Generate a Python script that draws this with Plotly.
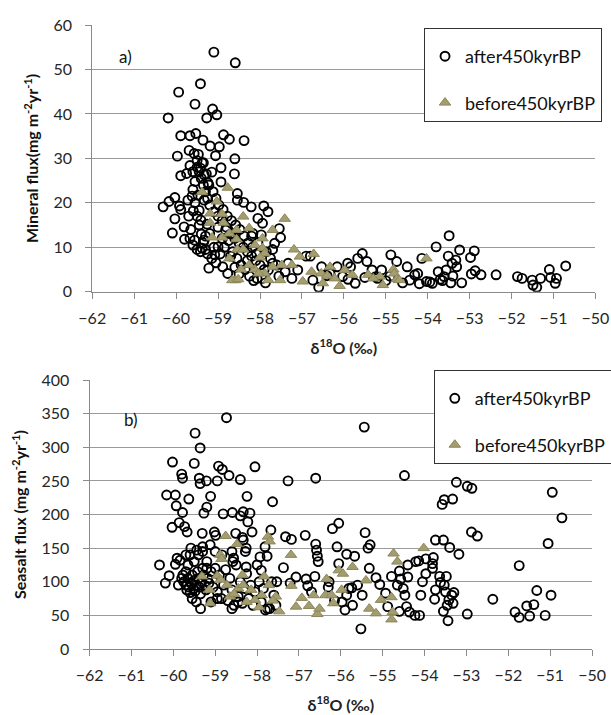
import plotly.graph_objects as go

# ---------------- Panel a) Mineral flux ----------------
a_after_x = [-59.1, -58.59, -59.42, -59.94, -59.55, -60.19, -59.27, -59.13, -59.03, -59.89, -59.67, -59.53,
             -58.87, -58.73, -58.38, -59.36, -59.19, -58.97, -59.69, -59.57, -59.47, -59.97, -59.06, -58.6,
             -58.93, -58.61, -59.89, -59.38, -59.67, -59.75, -59.33, -59.15, -58.93, -59.55, -59.24, -58.54,
             -60.31, -60.17, -60.03, -59.92, -59.89, -60.03, -60.09, -59.81, -59.8, -59.67, -59.56, -59.72,
             -59.62, -59.48, -59.59, -59.45, -59.33, -59.41, -59.26, -59.2, -59.33, -59.38, -59.22, -59.08,
             -58.89, -58.77, -59.0, -58.82, -58.67, -58.54, -58.39, -58.21, -57.91, -57.81, -58.05, -57.94,
             -58.17, -57.97, -57.54, -57.51, -57.65, -57.7, -57.7, -57.8, -57.87, -58.07, -57.33, -57.24,
             -57.1, -56.9, -56.8, -56.74, -56.6, -56.53, -56.33, -56.16, -56.03, -55.91, -55.84, -55.73,
             -55.67, -55.56, -55.45, -55.33, -55.24, -55.1, -54.88, -54.74, -54.49, -54.43, -54.31, -54.24,
             -54.14, -54.03, -53.89, -53.8, -53.75, -53.61, -53.56, -53.49, -53.51, -53.42, -53.33, -53.31,
             -53.24, -53.19, -52.98, -52.89, -52.96, -52.87, -52.73, -52.37, -51.86, -51.75, -51.51, -51.49,
             -51.4, -51.31, -51.1, -51.07, -50.96, -50.93, -50.71,
             -59.5, -59.45, -59.4, -59.35, -59.3, -59.25, -59.2, -59.1, -59.0, -58.9, -58.8, -58.7, -58.6,
             -58.5, -58.4, -58.3, -58.2, -58.1, -58.0, -57.9,
             -59.6, -59.55, -59.5, -59.45, -59.4, -59.35, -59.3, -59.25, -59.15, -59.05, -58.95, -58.85,
             -58.75, -58.65, -58.55, -58.45, -58.35, -58.25, -58.15, -57.95,
             -59.6, -59.5, -59.42, -59.35, -59.28, -59.22, -59.12, -59.05, -58.98, -58.88, -58.78, -58.68,
             -58.58, -58.48, -58.38, -58.28, -58.18, -58.08,
             -59.7, -59.65, -59.6, -59.5, -59.42, -59.3, -59.1, -59.0, -58.9, -58.7, -58.6, -58.5, -58.3,
             -58.2, -58.05, -57.85, -57.75, -57.6, -57.55, -57.4,
             -55.2, -55.0, -54.9, -54.6, -54.2, -53.95, -53.7, -53.45, -53.4, -53.65, -55.5, -55.9, -56.4]
a_after_y = [53.9, 51.5, 46.8, 44.9, 42.2, 39.1, 39.1, 41.1, 39.8, 35.1, 35.1, 35.6,
             35.3, 34.3, 34.0, 34.1, 32.8, 32.6, 31.8, 31.1, 30.9, 30.5, 30.6, 29.9,
             27.9, 26.5, 26.1, 29.0, 28.4, 26.6, 26.3, 26.9, 24.7, 24.8, 24.5, 22.1,
             19.1, 20.3, 21.2, 19.3, 18.5, 16.4, 13.2, 14.6, 11.8, 12.0, 11.6, 20.6,
             21.5, 21.7, 18.2, 18.3, 20.6, 16.1, 15.2, 13.1, 11.6, 9.8, 5.3, 8.3,
             5.6, 4.1, 10.1, 13.9, 13.1, 20.6, 20.1, 19.1, 19.3, 18.0, 16.5, 15.4,
             13.1, 12.8, 14.2, 12.2, 10.9, 9.5, 6.4, 4.9, 2.0, 3.0, 6.4, 3.0,
             4.9, 8.0, 8.0, 2.6, 1.0, 5.6, 4.1, 5.6, 3.4, 6.4, 5.6, 1.9,
             7.5, 8.6, 6.8, 4.9, 3.4, 4.9, 8.3, 6.8, 5.6, 2.6, 3.8, 4.1,
             7.5, 2.3, 1.9, 10.1, 4.5, 3.4, 4.9, 12.6, 8.0, 6.4, 7.1, 5.6,
             9.4, 2.0, 7.7, 9.2, 4.0, 4.7, 3.8, 3.8, 3.4, 3.0, 2.6, 1.5,
             1.0, 3.0, 5.0, 3.2, 1.9, 3.0, 5.8,
             28.0, 27.0, 25.5, 24.0, 22.5, 21.0, 19.5, 18.0, 17.0, 16.0, 14.5, 13.0, 12.0,
             11.0, 10.0, 9.0, 8.0, 7.0, 6.0, 5.0,
             23.0, 20.0, 17.0, 15.0, 13.0, 11.0, 9.5, 8.5, 7.5, 6.5, 8.5, 10.0,
             11.5, 9.0, 7.5, 6.0, 5.0, 3.5, 2.5, 3.0,
             27.0, 29.5, 27.8, 29.0, 26.5, 24.0, 22.5, 21.0, 19.5, 18.5, 17.0, 16.0,
             15.0, 14.0, 12.5, 11.0, 10.0, 8.5,
             17.0, 14.0, 10.5, 9.5, 9.0, 12.5, 10.0, 14.5, 12.0, 8.0, 5.5, 4.0, 7.0,
             12.5, 11.0, 9.0, 7.5, 6.0, 3.5, 4.5,
             3.0, 2.5, 3.5, 2.0, 1.8, 2.2, 2.8, 2.0, 3.5, 2.5, 3.2, 2.8, 3.6]

a_before_x = [-59.38, -58.77, -59.03, -59.19, -59.19, -58.91, -58.87, -59.14, -58.9, -58.56, -58.4, -58.26,
              -58.12, -57.94, -57.7, -57.41, -57.19, -57.05, -57.24, -57.48, -57.52, -57.8, -57.89, -58.12,
              -58.26, -58.45, -58.59, -58.73, -58.66, -58.52, -58.54, -58.4, -58.03, -57.7, -56.98, -56.72,
              -56.77, -56.54, -56.5, -56.33, -56.22, -56.1, -55.98, -55.8, -55.42, -55.14, -55.07, -54.82,
              -54.8, -54.74, -54.68, -54.03, -57.94, -57.89, -58.0, -58.73, -58.56, -56.4, -55.3]
a_before_y = [22.4, 23.4, 20.3, 17.6, 15.5, 17.5, 15.5, 12.2, 12.2, 11.8, 16.9, 14.3,
              10.5, 9.8, 13.9, 16.4, 9.5, 7.9, 6.0, 6.0, 2.6, 2.6, 4.1, 5.0,
              6.0, 5.0, 2.6, 7.5, 2.6, 2.8, 9.5, 9.5, 4.1, 5.6, 2.3, 8.5,
              4.5, 4.1, 1.9, 5.6, 3.0, 1.3, 4.9, 3.8, 3.8, 3.4, 1.5, 5.0,
              4.1, 2.8, 2.6, 7.5, 12.0, 8.6, 7.7, 13.1, 13.9, 3.6, 3.0]

# ---------------- Panel b) Seasalt flux ----------------
b_after_x = [-58.73, -55.44, -59.48, -59.36, -60.02, -59.5, -58.92, -58.83, -58.05, -59.8, -59.78, -59.38,
             -59.36, -59.21, -58.95, -58.67, -58.4, -57.26, -56.6, -54.48, -53.24, -52.98, -52.87, -60.16,
             -59.95, -59.63, -59.11, -58.24, -57.63, -53.53, -53.58, -53.33, -50.95, -50.72, -59.93, -59.78,
             -59.27, -59.2, -58.81, -58.59, -58.4, -58.33, -58.17, -58.22, -60.03, -59.86, -59.73, -59.67,
             -59.31, -59.02, -58.99, -58.51, -58.35, -58.12, -57.67, -57.32, -57.18, -56.85, -56.2, -56.05,
             -55.42, -53.74, -53.55, -53.4, -53.18, -52.88, -52.74, -51.05, -51.74, -52.37, -52.98, -51.84,
             -51.74, -51.56, -51.49, -51.39, -51.32, -51.12, -50.98, -60.33, -60.19, -60.1, -59.95, -59.91,
             -59.84, -59.88, -59.77, -59.7, -59.58, -59.44, -59.3, -59.12, -59.0, -58.84, -58.6, -58.56,
             -58.58, -58.33, -58.26, -58.28, -58.26, -58.0, -57.93, -57.76, -57.81, -57.9, -57.53, -57.37,
             -57.21, -57.07, -56.83, -56.79, -56.6, -56.58, -56.56, -56.54, -56.62, -56.28, -56.09, -56.05,
             -55.97, -55.86, -55.67, -55.81, -55.74, -55.86, -55.72, -55.52, -55.49, -55.35, -55.3, -55.32,
             -55.16, -55.07, -54.93, -54.88, -54.79, -54.65, -54.6, -54.57, -54.51, -54.47, -54.4, -54.4,
             -54.43, -54.36, -54.6, -54.23, -54.12, -54.21, -54.14, -54.09, -54.05, -53.97, -53.97, -53.81,
             -53.81, -53.79, -53.74, -53.76, -53.64, -53.62, -53.53, -53.5, -53.55, -53.48, -53.46, -53.44,
             -53.42, -53.35, -53.32, -53.3,
             -59.75, -59.7, -59.68, -59.65, -59.62, -59.6, -59.58, -59.55, -59.52, -59.5, -59.48, -59.45,
             -59.42, -59.4, -59.38, -59.35, -59.32, -59.3, -59.28, -59.25, -59.22, -59.2, -59.18, -59.15,
             -59.1, -59.05, -59.0, -58.95, -58.9, -58.85, -58.8, -58.75, -58.7, -58.65, -58.6, -58.55,
             -58.5, -58.45, -58.4, -58.35, -58.3, -58.25, -58.2, -58.15, -58.1, -58.05, -57.95, -57.9,
             -57.85, -57.75, -57.65, -57.6, -57.55,
             -59.6, -59.5, -59.4, -59.3, -59.2, -59.65, -59.55, -59.45, -59.7, -59.8, -59.35, -59.1,
             -58.95, -58.6, -58.45, -57.8, -57.7, -56.3, -56.15, -55.6, -55.9, -56.7]
b_after_y = [344, 330, 321, 299, 278, 276, 272, 267, 271, 260, 254, 254,
             246, 250, 250, 258, 252, 250, 254, 258, 248, 242, 239, 229,
             229, 223, 227, 227, 219, 222, 215, 223, 233, 195, 213, 203,
             202, 211, 201, 203, 198, 204, 202, 189, 181, 188, 182, 174,
             172, 174, 169, 172, 166, 174, 177, 167, 163, 169, 179, 187,
             173, 162, 162, 151, 141, 174, 168, 157, 124, 74, 52, 55,
             47, 64, 49, 66, 87, 50, 80, 125, 98, 109, 126, 135,
             132, 95, 110, 140, 150, 147, 152, 155, 145, 140, 145, 135,
             130, 162, 150, 145, 122, 125, 137, 138, 152, 117, 100, 121,
             98, 107, 104, 94, 156, 147, 138, 130, 108, 100, 152, 127,
             70, 141, 138, 90, 91, 80, 65, 30, 80, 150, 155, 120,
             106, 96, 83, 63, 108, 95, 116, 104, 90, 80, 125, 107,
             63, 55, 56, 50, 50, 130, 131, 80, 100, 112, 134, 127,
             120, 136, 88, 74, 108, 99, 95, 85, 56, 108, 65, 42,
             73, 80, 68, 84,
             100, 95, 88, 105, 92, 84, 98, 110, 90, 102, 86, 95,
             115, 105, 92, 82, 100, 120, 110, 95, 88, 130, 105, 98,
             115, 92, 120, 85, 110, 75, 95, 118, 72, 105, 88, 65,
             125, 78, 100, 68, 90, 112, 75, 95, 65, 85, 100, 70,
             90, 60, 100, 80, 65,
             140, 130, 140, 145, 120, 125, 75, 70, 115, 105, 60, 70,
             75, 60, 70, 58, 60, 92, 72, 95, 58, 85]

b_before_x = [-58.75, -58.88, -58.85, -58.48, -59.32, -59.14, -58.95, -58.87, -58.72, -58.65, -58.45, -58.35,
              -58.33, -58.14, -58.05, -57.89, -57.74, -57.7, -57.83, -57.72, -57.55, -57.47, -57.19, -57.18,
              -57.07, -56.93, -56.76, -56.65, -56.56, -56.51, -56.37, -56.34, -56.22, -56.18, -56.05, -55.98,
              -55.95, -55.72, -55.4, -55.32, -55.16, -55.04, -54.79, -54.76, -54.74, -54.65, -54.79, -54.02,
              -59.12, -58.55, -58.25, -57.95, -57.62]
b_before_y = [168, 140, 134, 156, 108, 88, 109, 103, 95, 78, 90, 110,
              95, 88, 73, 80, 167, 160, 108, 95, 78, 56, 140, 94,
              63, 76, 64, 80, 52, 60, 80, 104, 80, 68, 117, 88,
              112, 122, 102, 60, 53, 73, 44, 55, 142, 130, 77, 150,
              68, 82, 70, 62, 72]

x_ticks = [-62, -61, -60, -59, -58, -57, -56, -55, -54, -53, -52, -51, -50]
a_y_ticks = [0, 10, 20, 30, 40, 50, 60]
b_y_ticks = [0, 50, 100, 150, 200, 250, 300, 350, 400]

FONT = "Lato"
CIRC = dict(symbol="circle-open", size=9, color="black", line=dict(width=1.9, color="black"))
TRI = dict(symbol="triangle-up", size=10, color="#a39d6f", line=dict(width=1, color="#8c865a"))

fig = go.Figure()
fig.add_trace(go.Scatter(x=a_after_x, y=a_after_y, mode="markers", name="after450kyrBP",
                         marker=CIRC, xaxis="x", yaxis="y", legend="legend", legendgroup="a1"))
fig.add_trace(go.Scatter(x=a_before_x, y=a_before_y, mode="markers", name="before450kyrBP",
                         marker=TRI, xaxis="x", yaxis="y", legend="legend", legendgroup="a2"))
fig.add_trace(go.Scatter(x=b_after_x, y=b_after_y, mode="markers", name="after450kyrBP",
                         marker=CIRC, xaxis="x2", yaxis="y2", legend="legend2", legendgroup="b1"))
fig.add_trace(go.Scatter(x=b_before_x, y=b_before_y, mode="markers", name="before450kyrBP",
                         marker=TRI, xaxis="x2", yaxis="y2", legend="legend2", legendgroup="b2"))

axis_common = dict(showline=True, linecolor="#8a8a8a", linewidth=1, ticks="outside", ticklen=6,
                   tickcolor="#8a8a8a", tickfont=dict(family=FONT, size=16, color="#262626"), zeroline=False)
xcommon = dict(axis_common, range=[-62, -50], tickvals=x_ticks, showgrid=False, ticklabelstandoff=6,
               title=dict(text="<b>δ<sup>18</sup>O (‰)</b>", font=dict(family=FONT, size=16, color="#222"),
                          standoff=16))

leg_common = dict(bgcolor="white", bordercolor="#333", borderwidth=1,
                  font=dict(family=FONT, size=18, color="#111"), tracegroupgap=20,
                  title=dict(text=" ", font=dict(size=7)),
                  traceorder="grouped", xanchor="left", yanchor="top", itemwidth=30)

fig.update_layout(
    width=611, height=715, margin=dict(l=0, r=0, t=0, b=0, autoexpand=False),
    paper_bgcolor="white", plot_bgcolor="white", showlegend=True,
    xaxis=dict(xcommon, domain=[0.1510, 0.9746], anchor="y"),
    yaxis=dict(axis_common, domain=[0.5920, 0.9650], range=[0, 60], tickvals=a_y_ticks, anchor="x",
               showgrid=True, gridcolor="#9a9a9a", gridwidth=1, ticklabelstandoff=10,
               title=dict(text="<b>Mineral flux(mg m<sup>-2</sup>yr<sup>-1</sup>)</b>",
                          font=dict(family=FONT, size=16, color="#111"), standoff=10)),
    xaxis2=dict(xcommon, domain=[0.1466, 0.969], anchor="y2"),
    yaxis2=dict(axis_common, domain=[0.0923, 0.4685], range=[0, 400], tickvals=b_y_ticks, anchor="x2",
                showgrid=True, gridcolor="#9a9a9a", gridwidth=1, ticklabelstandoff=10,
                title=dict(text="<b>Seasalt flux (mg m<sup>-2</sup>yr<sup>-1</sup>)</b>",
                           font=dict(family=FONT, size=16, color="#111"), standoff=10)),
    legend=dict(leg_common, x=0.694, y=0.961),
    legend2=dict(leg_common, x=0.71, y=0.4825),
    annotations=[
        dict(text="a)", x=-61.2, y=53, xref="x", yref="y", showarrow=False,
             font=dict(family=FONT, size=17, color="#111")),
        dict(text="b)", x=-61.0, y=342, xref="x2", yref="y2", showarrow=False,
             font=dict(family=FONT, size=17, color="#111")),
    ],
)

fig.write_html("out.html", config={"displayModeBar": False},
               post_script="document.body.style.margin='0';document.body.style.overflow='hidden';")
